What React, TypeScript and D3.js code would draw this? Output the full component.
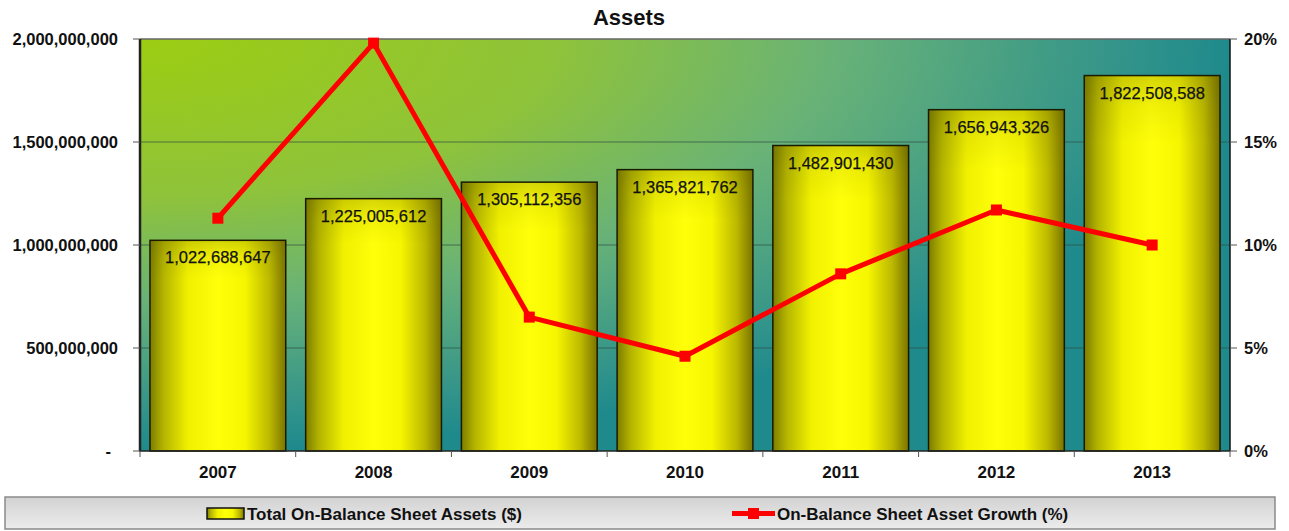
import React from "react";
import * as d3 from "d3";

const categories = ["2007", "2008", "2009", "2010", "2011", "2012", "2013"];
const assets = [1022688647, 1225005612, 1305112356, 1365821762, 1482901430, 1656943326, 1822508588];
const growthPct = [11.3, 19.8, 6.5, 4.6, 8.6, 11.7, 10.0];
const leftTicks = [0, 500000000, 1000000000, 1500000000, 2000000000];
const rightTicks = [0, 5, 10, 15, 20];
const title = "Assets";
const barSeriesName = "Total On-Balance Sheet Assets ($)";
const lineSeriesName = "On-Balance Sheet Asset Growth (%)";

const W = 1289;
const H = 531;
const plot = { left: 140, right: 1230, top: 39, bottom: 451 };
const font = "'Liberation Sans', Arial, sans-serif";

export default function App() {
  const x = d3
    .scaleBand<string>()
    .domain(categories)
    .range([plot.left, plot.right])
    .paddingInner(0.128)
    .paddingOuter(0.064);
  const yL = d3.scaleLinear().domain([0, 2000000000]).range([plot.bottom, plot.top]);
  const yR = d3.scaleLinear().domain([0, 20]).range([plot.bottom, plot.top]);
  const fmt = d3.format(",");
  const step = x.step();

  const lineGen = d3
    .line<number>()
    .x((_, i) => (x(categories[i]) as number) + x.bandwidth() / 2)
    .y((d) => yR(d));

  const boundaries = d3.range(categories.length + 1).map((i) => plot.left + i * step);

  return (
    <div style={{ position: "absolute", left: 0, top: 0 }}>
      <svg width={W} height={H} style={{ display: "block", fontFamily: font }}>
        <defs>
          <radialGradient id="bg" cx="0" cy="0" r="1" fx="0" fy="0" gradientUnits="objectBoundingBox">
            <stop offset="0" stopColor="#9ccd12" />
            <stop offset="0.38" stopColor="#8fc33a" />
            <stop offset="0.64" stopColor="#68b278" />
            <stop offset="0.9" stopColor="#33948a" />
            <stop offset="1" stopColor="#1f8a8c" />
          </radialGradient>
          <linearGradient id="barH" x1="0" y1="0" x2="1" y2="0">
            <stop offset="0" stopColor="#7c7c00" />
            <stop offset="0.1" stopColor="#b4b400" />
            <stop offset="0.28" stopColor="#f0f000" />
            <stop offset="0.5" stopColor="#ffff0a" />
            <stop offset="0.7" stopColor="#f6f600" />
            <stop offset="0.88" stopColor="#bcb800" />
            <stop offset="1" stopColor="#7a7400" />
          </linearGradient>
          <linearGradient id="barV" x1="0" y1="0" x2="0" y2="1">
            <stop offset="0" stopColor="#5a5a00" stopOpacity="0.25" />
            <stop offset="0.08" stopColor="#5a5a00" stopOpacity="0.08" />
            <stop offset="0.18" stopColor="#5a5a00" stopOpacity="0" />
            <stop offset="1" stopColor="#5a5a00" stopOpacity="0" />
          </linearGradient>
          <linearGradient id="legendBg" x1="0" y1="0" x2="0" y2="1">
            <stop offset="0" stopColor="#d2d2d2" />
            <stop offset="1" stopColor="#ececec" />
          </linearGradient>
        </defs>

        {/* title */}
        <text x={629} y={25} textAnchor="middle" fontSize={22} fontWeight="bold" fill="#111">
          {title}
        </text>

        {/* plot background */}
        <rect
          x={plot.left}
          y={plot.top}
          width={plot.right - plot.left}
          height={plot.bottom - plot.top}
          fill="url(#bg)"
        />

        {/* gridlines */}
        {leftTicks.slice(1, -1).map((t) => (
          <line
            key={"g" + t}
            x1={plot.left}
            x2={plot.right}
            y1={yL(t)}
            y2={yL(t)}
            stroke="#2f4f45"
            strokeOpacity={0.7}
            strokeWidth={1}
          />
        ))}

        {/* plot border */}
        <line x1={plot.left} x2={plot.right} y1={plot.top} y2={plot.top} stroke="#666" strokeWidth={1.5} />
        <line x1={plot.right} x2={plot.right} y1={plot.top} y2={plot.bottom} stroke="#111" strokeWidth={1.5} />
        <line x1={plot.left} x2={plot.left} y1={plot.top} y2={plot.bottom} stroke="#222" strokeWidth={2.5} />

        {/* bars */}
        {assets.map((v, i) => {
          const bx = x(categories[i]) as number;
          const by = yL(v);
          const bw = x.bandwidth();
          const bh = plot.bottom - by;
          return (
            <g key={"b" + i}>
              <rect x={bx} y={by} width={bw} height={bh} fill="url(#barH)" />
              <rect x={bx} y={by} width={bw} height={bh} fill="url(#barV)" stroke="#1a1a00" strokeWidth={1.5} />
              <text
                x={bx + bw / 2}
                y={by + 23}
                textAnchor="middle"
                fontSize={16.5}
                fill="#111"
                stroke="#111"
                strokeWidth={0.25}
              >
                {fmt(v)}
              </text>
            </g>
          );
        })}

        {/* axes */}
        <line x1={plot.left - 1} x2={plot.right} y1={plot.bottom} y2={plot.bottom} stroke="#222" strokeWidth={1.5} />
        {leftTicks.map((t) => (
          <g key={"l" + t}>
            <line x1={plot.left - 7} x2={plot.left} y1={yL(t)} y2={yL(t)} stroke="#555" strokeWidth={1} />
            <text
              x={t === 0 ? 111 : 118}
              y={yL(t)}
              dy="0.36em"
              textAnchor="end"
              fontSize={16.5}
              fontWeight="bold"
              fill="#111"
            >
              {t === 0 ? "-" : fmt(t)}
            </text>
          </g>
        ))}
        {rightTicks.map((t) => (
          <g key={"r" + t}>
            <line x1={plot.right} x2={plot.right + 7} y1={yR(t)} y2={yR(t)} stroke="#555" strokeWidth={1} />
            <text x={1244} y={yR(t)} dy="0.36em" textAnchor="start" fontSize={16.5} fontWeight="bold" fill="#111">
              {t + "%"}
            </text>
          </g>
        ))}
        {boundaries.map((bx, i) => (
          <line key={"t" + i} x1={bx} x2={bx} y1={plot.bottom} y2={plot.bottom + 6} stroke="#555" strokeWidth={1} />
        ))}
        {categories.map((c) => (
          <text
            key={"c" + c}
            x={(x(c) as number) + x.bandwidth() / 2}
            y={478}
            textAnchor="middle"
            fontSize={17}
            fontWeight="bold"
            fill="#111"
          >
            {c}
          </text>
        ))}

        {/* line series */}
        <path d={lineGen(growthPct) || ""} fill="none" stroke="#ff0000" strokeWidth={5} strokeLinejoin="round" />
        {growthPct.map((v, i) => {
          const cx = (x(categories[i]) as number) + x.bandwidth() / 2;
          const cy = yR(v);
          return <rect key={"m" + i} x={cx - 5.5} y={cy - 5.5} width={11} height={11} fill="#ff0000" />;
        })}

        {/* legend */}
        <rect x={5} y={497} width={1270} height={32} fill="url(#legendBg)" stroke="#8a8a8a" strokeWidth={1.5} />
        <rect x={207} y={508} width={37} height={11} fill="url(#barH)" stroke="#111" strokeWidth={1.5} />
        <text x={247} y={520} fontSize={17} fontWeight="bold" fill="#111">
          {barSeriesName}
        </text>
        <line x1={732} x2={775} y1={513.5} y2={513.5} stroke="#ff0000" strokeWidth={5} />
        <rect x={748} y={508} width={11} height={11} fill="#ff0000" />
        <text x={777} y={520} fontSize={17} fontWeight="bold" fill="#111">
          {lineSeriesName}
        </text>
      </svg>
    </div>
  );
}
